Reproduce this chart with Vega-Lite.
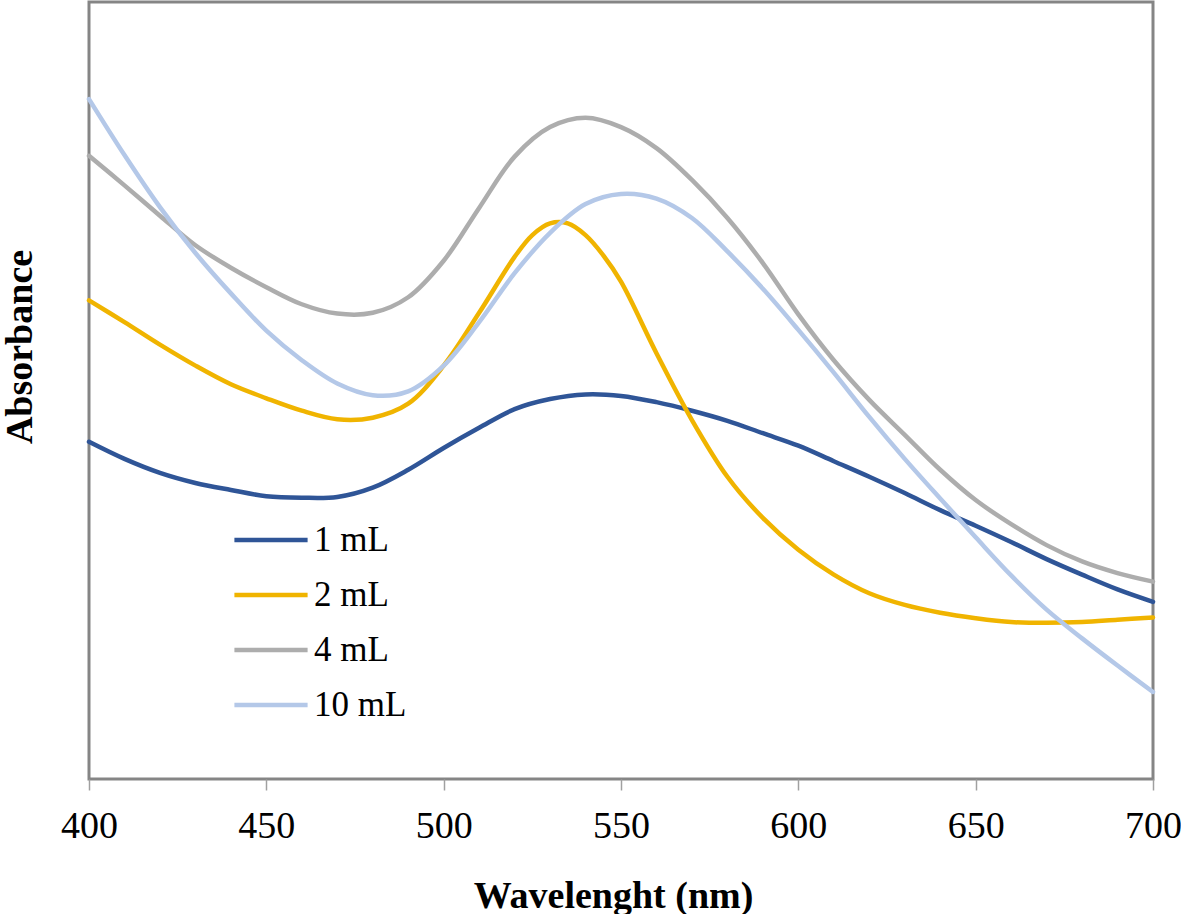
{
  "$schema": "https://vega.github.io/schema/vega-lite/v6.json",
  "width": 1064,
  "height": 777,
  "autosize": "none",
  "padding": {"left": 89, "top": 2, "right": 28, "bottom": 135},
  "background": "white",
  "config": {
    "view": {"stroke": "#858585", "strokeWidth": 3},
    "font": "Liberation Serif"
  },
  "data": {"values": [
    {"w":400,"s":"1 mL","a":0.434},{"w":410,"s":"1 mL","a":0.412},{"w":420,"s":"1 mL","a":0.394},{"w":430,"s":"1 mL","a":0.381},{"w":440,"s":"1 mL","a":0.372},{"w":450,"s":"1 mL","a":0.364},{"w":460,"s":"1 mL","a":0.362},{"w":470,"s":"1 mL","a":0.363},{"w":480,"s":"1 mL","a":0.375},{"w":490,"s":"1 mL","a":0.398},{"w":500,"s":"1 mL","a":0.426},{"w":510,"s":"1 mL","a":0.452},{"w":520,"s":"1 mL","a":0.476},{"w":530,"s":"1 mL","a":0.489},{"w":540,"s":"1 mL","a":0.495},{"w":550,"s":"1 mL","a":0.493},{"w":560,"s":"1 mL","a":0.485},{"w":570,"s":"1 mL","a":0.474},{"w":580,"s":"1 mL","a":0.461},{"w":590,"s":"1 mL","a":0.445},{"w":600,"s":"1 mL","a":0.429},{"w":610,"s":"1 mL","a":0.409},{"w":620,"s":"1 mL","a":0.389},{"w":630,"s":"1 mL","a":0.368},{"w":640,"s":"1 mL","a":0.346},{"w":650,"s":"1 mL","a":0.326},{"w":660,"s":"1 mL","a":0.305},{"w":670,"s":"1 mL","a":0.283},{"w":680,"s":"1 mL","a":0.263},{"w":690,"s":"1 mL","a":0.244},{"w":700,"s":"1 mL","a":0.228},

    {"w":400,"s":"2 mL","a":0.616},{"w":410,"s":"2 mL","a":0.588},{"w":420,"s":"2 mL","a":0.559},{"w":430,"s":"2 mL","a":0.532},{"w":440,"s":"2 mL","a":0.508},{"w":450,"s":"2 mL","a":0.490},{"w":460,"s":"2 mL","a":0.474},{"w":470,"s":"2 mL","a":0.463},{"w":480,"s":"2 mL","a":0.465},{"w":490,"s":"2 mL","a":0.483},{"w":500,"s":"2 mL","a":0.532},{"w":510,"s":"2 mL","a":0.600},{"w":520,"s":"2 mL","a":0.672},{"w":525,"s":"2 mL","a":0.700},{"w":530,"s":"2 mL","a":0.715},{"w":535,"s":"2 mL","a":0.715},{"w":540,"s":"2 mL","a":0.700},{"w":545,"s":"2 mL","a":0.674},{"w":550,"s":"2 mL","a":0.640},{"w":560,"s":"2 mL","a":0.548},{"w":570,"s":"2 mL","a":0.462},{"w":580,"s":"2 mL","a":0.389},{"w":590,"s":"2 mL","a":0.336},{"w":600,"s":"2 mL","a":0.295},{"w":610,"s":"2 mL","a":0.263},{"w":620,"s":"2 mL","a":0.239},{"w":630,"s":"2 mL","a":0.224},{"w":640,"s":"2 mL","a":0.214},{"w":650,"s":"2 mL","a":0.207},{"w":660,"s":"2 mL","a":0.202},{"w":670,"s":"2 mL","a":0.201},{"w":680,"s":"2 mL","a":0.202},{"w":690,"s":"2 mL","a":0.205},{"w":700,"s":"2 mL","a":0.208},

    {"w":400,"s":"4 mL","a":0.802},{"w":410,"s":"4 mL","a":0.764},{"w":420,"s":"4 mL","a":0.725},{"w":430,"s":"4 mL","a":0.687},{"w":440,"s":"4 mL","a":0.658},{"w":450,"s":"4 mL","a":0.633},{"w":460,"s":"4 mL","a":0.611},{"w":470,"s":"4 mL","a":0.599},{"w":480,"s":"4 mL","a":0.600},{"w":490,"s":"4 mL","a":0.620},{"w":500,"s":"4 mL","a":0.667},{"w":510,"s":"4 mL","a":0.735},{"w":520,"s":"4 mL","a":0.801},{"w":530,"s":"4 mL","a":0.839},{"w":540,"s":"4 mL","a":0.851},{"w":550,"s":"4 mL","a":0.839},{"w":560,"s":"4 mL","a":0.812},{"w":570,"s":"4 mL","a":0.771},{"w":580,"s":"4 mL","a":0.722},{"w":590,"s":"4 mL","a":0.664},{"w":600,"s":"4 mL","a":0.598},{"w":610,"s":"4 mL","a":0.539},{"w":620,"s":"4 mL","a":0.488},{"w":630,"s":"4 mL","a":0.443},{"w":640,"s":"4 mL","a":0.398},{"w":650,"s":"4 mL","a":0.359},{"w":660,"s":"4 mL","a":0.328},{"w":670,"s":"4 mL","a":0.301},{"w":680,"s":"4 mL","a":0.280},{"w":690,"s":"4 mL","a":0.265},{"w":700,"s":"4 mL","a":0.254},

    {"w":400,"s":"10 mL","a":0.875},{"w":410,"s":"10 mL","a":0.803},{"w":420,"s":"10 mL","a":0.736},{"w":430,"s":"10 mL","a":0.677},{"w":440,"s":"10 mL","a":0.625},{"w":450,"s":"10 mL","a":0.577},{"w":460,"s":"10 mL","a":0.539},{"w":470,"s":"10 mL","a":0.509},{"w":480,"s":"10 mL","a":0.494},{"w":490,"s":"10 mL","a":0.499},{"w":500,"s":"10 mL","a":0.532},{"w":510,"s":"10 mL","a":0.588},{"w":520,"s":"10 mL","a":0.651},{"w":530,"s":"10 mL","a":0.703},{"w":540,"s":"10 mL","a":0.740},{"w":550,"s":"10 mL","a":0.753},{"w":560,"s":"10 mL","a":0.747},{"w":570,"s":"10 mL","a":0.722},{"w":580,"s":"10 mL","a":0.679},{"w":590,"s":"10 mL","a":0.631},{"w":600,"s":"10 mL","a":0.578},{"w":610,"s":"10 mL","a":0.523},{"w":620,"s":"10 mL","a":0.466},{"w":630,"s":"10 mL","a":0.412},{"w":640,"s":"10 mL","a":0.361},{"w":650,"s":"10 mL","a":0.311},{"w":660,"s":"10 mL","a":0.262},{"w":670,"s":"10 mL","a":0.218},{"w":680,"s":"10 mL","a":0.181},{"w":690,"s":"10 mL","a":0.146},{"w":700,"s":"10 mL","a":0.112}
  ]},
  "mark": {"type": "line", "interpolate": "catmull-rom", "strokeWidth": 4.5, "strokeCap": "round"},
  "encoding": {
    "x": {
      "field": "w", "type": "quantitative",
      "scale": {"domain": [400, 700], "nice": false, "zero": false},
      "axis": {
        "title": "Wavelenght (nm)",
        "values": [400, 450, 500, 550, 600, 650, 700],
        "format": "d",
        "grid": false,
        "domain": false,
        "ticks": true,
        "tickColor": "#a0a0a0",
        "tickWidth": 1.5,
        "tickSize": 11,
        "labelFont": "Liberation Serif",
        "labelFontSize": 38,
        "labelColor": "black",
        "labelPadding": 17,
        "labelFlush": false,
        "labelOverlap": false,
        "titleFont": "Liberation Serif",
        "titleFontSize": 38,
        "titleFontWeight": "bold",
        "titleColor": "black",
        "titleBaseline": "alphabetic",
        "titleX": 524,
        "titleY": 128
      }
    },
    "y": {
      "field": "a", "type": "quantitative",
      "scale": {"domain": [0, 1], "nice": false},
      "axis": {
        "title": "Absorbance",
        "grid": false,
        "domain": false,
        "ticks": false,
        "labels": false,
        "titleFont": "Liberation Serif",
        "titleFontSize": 38,
        "titleFontWeight": "bold",
        "titleColor": "black",
        "titleBaseline": "alphabetic",
        "titleX": -58,
        "titleY": 344.5
      }
    },
    "color": {
      "field": "s", "type": "nominal",
      "sort": ["1 mL", "2 mL", "4 mL", "10 mL"],
      "scale": {"domain": ["1 mL", "2 mL", "4 mL", "10 mL"], "range": ["#2F5597", "#F0B400", "#ADADAD", "#B4C8E8"]},
      "legend": {
        "orient": "none",
        "legendX": 164.5,
        "legendY": 520.5,
        "title": null,
        "padding": 0,
        "symbolType": "M-3.05,0H3.05",
        "symbolSize": 576,
        "symbolStrokeWidth": 4.5,
        "labelFont": "Liberation Serif",
        "labelFontSize": 35,
        "labelColor": "black",
        "labelOffset": 25.5,
        "rowPadding": 19
      }
    }
  }
}
